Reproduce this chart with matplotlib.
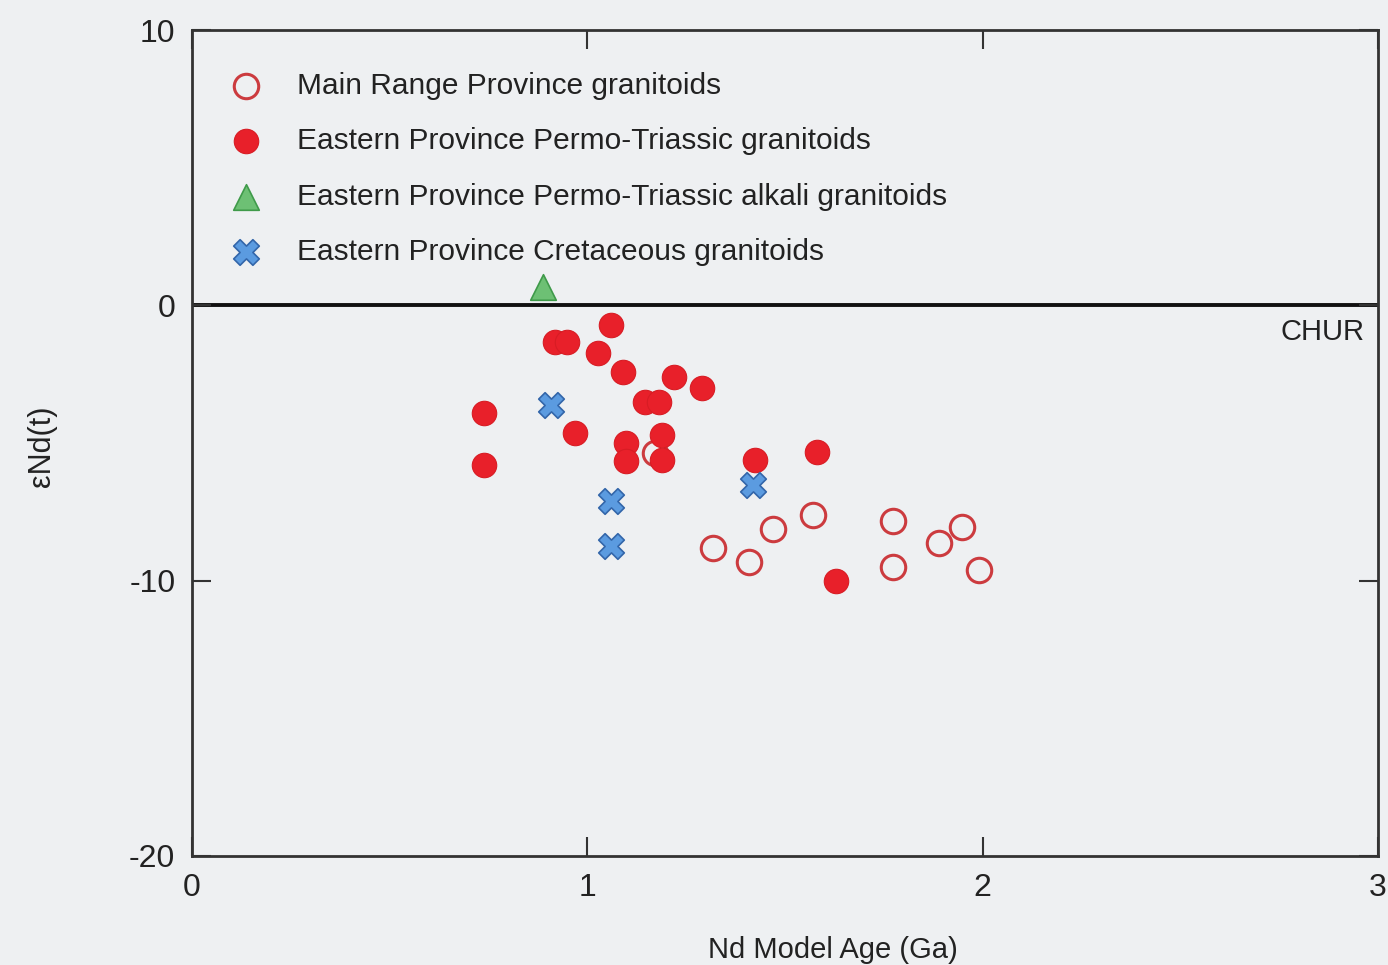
import matplotlib
matplotlib.use("Agg")
import matplotlib.pyplot as plt

# Data
main_range_x = [1.172, 1.319, 1.408, 1.470, 1.572, 1.772, 1.772, 1.889, 1.949, 1.990]
main_range_y = [-5.38, -8.83, -9.34, -8.14, -7.63, -7.85, -9.52, -8.64, -8.06, -9.63]

east_pt_x = [0.739, 0.739, 0.919, 0.949, 1.061, 1.028, 1.091, 0.970, 1.147, 1.182,
             1.220, 1.291, 1.099, 1.099, 1.190, 1.190, 1.423, 1.580, 1.630]
east_pt_y = [-3.92, -5.81, -1.34, -1.34, -0.73, -1.74, -2.43, -4.65, -3.52, -3.52,
             -2.61, -3.01, -5.01, -5.67, -4.72, -5.63, -5.63, -5.34, -10.03]

alkali_x = [0.889]
alkali_y = [0.65]

cret_x = [0.909, 1.061, 1.061, 1.420]
cret_y = [-3.63, -7.12, -8.75, -6.54]

labels = ["Main Range Province granitoids",
          "Eastern Province Permo-Triassic granitoids",
          "Eastern Province Permo-Triassic alkali granitoids",
          "Eastern Province Cretaceous granitoids"]

xticks = [0, 1, 2, 3]
yticks = [10, 0, -10, -20]

bg = "#eef0f2"
plt.rcParams['font.family'] = ['Liberation Sans', 'DejaVu Sans']

fig = plt.figure(figsize=(13.88, 9.65), dpi=100, facecolor=bg)
ax = fig.add_axes([0.1383, 0.1130, 0.8545, 0.8559], facecolor=bg)

ax.axhline(0, color="#111111", lw=2.8, zorder=1)

h_main = ax.scatter(main_range_x, main_range_y, s=310, marker='o', facecolors=bg,
                    edgecolors="#cc3b3f", linewidths=2.2, zorder=2)
h_east = ax.scatter(east_pt_x, east_pt_y, s=310, marker='o', color="#e8202a",
                    edgecolors="#d81c24", linewidths=0.8, zorder=3)
h_alk = ax.scatter(alkali_x, alkali_y, s=340, marker='^', color="#6dc074",
                   edgecolors="#3f9a4a", linewidths=1.2, zorder=3)
h_cret = ax.scatter(cret_x, cret_y, s=340, marker='X', color="#5b9be0",
                    edgecolors="#3366aa", linewidths=1.2, zorder=4)

ax.set_xlim(0, 3)
ax.set_ylim(-20, 10)
ax.set_xticks(xticks)
ax.set_yticks(yticks)
ax.set_xticklabels([str(v) for v in xticks])
ax.set_yticklabels([str(v) for v in yticks])
ax.tick_params(direction='in', length=14, width=1.5, color="#333333",
               top=True, right=True, labelsize=23, pad=12, labelcolor="#222222")
for sp in ax.spines.values():
    sp.set_color("#333333")
    sp.set_linewidth(2)

ax.text(0.9885, -0.45, "CHUR", ha='right', va='top', fontsize=21,
        color="#222222", transform=ax.get_yaxis_transform())

leg = ax.legend([h_main, h_east, h_alk, h_cret], labels, loc='upper left',
                bbox_to_anchor=(0.0101, 0.964), frameon=False, fontsize=21.5,
                labelspacing=0.92, handletextpad=0.7, markerscale=1.0,
                borderaxespad=0)
for t in leg.get_texts():
    t.set_color("#222222")

fig.text(0.600, 0.016, "Nd Model Age (Ga)", ha='center', va='center',
         fontsize=21, color="#222222")
fig.text(0.030, 0.538, "εNd(t)", ha='center', va='center', rotation=90,
         fontsize=22, color="#222222")

fig.savefig("out.png", dpi=100, facecolor=bg)
